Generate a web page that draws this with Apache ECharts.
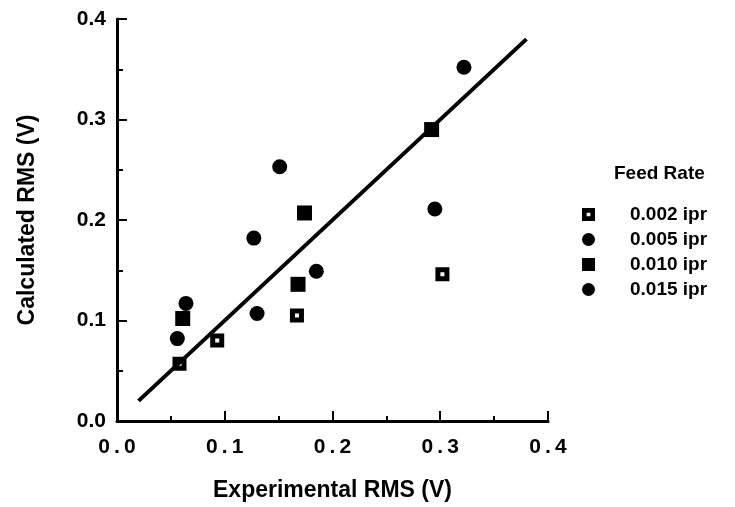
<!DOCTYPE html>
<html>
<head>
<meta charset="utf-8">
<script src="https://cdn.jsdelivr.net/npm/echarts@6/dist/echarts.min.js"></script>
<style>
  html, body, #main { width: 735px; height: 507px; margin: 0; background: #fff; }
</style>
</head>
<body>
<div id="main"></div>
<script>
// values
const rate002 = [[0.058, 0.057], [0.093, 0.080], [0.167, 0.105], [0.302, 0.146]]
const rate005 = [[0.056, 0.082], [0.064, 0.117], [0.130, 0.107], [0.185, 0.149]]
const rate010 = [[0.061, 0.102], [0.168, 0.136], [0.174, 0.207], [0.292, 0.290]]
const rate015 = [[0.127, 0.182], [0.151, 0.253], [0.295, 0.211], [0.322, 0.352]]
const fitLine = [[0.02, 0.02], [0.38, 0.38]]
const legendNames = ['0.002 ipr', '0.005 ipr', '0.010 ipr', '0.015 ipr']

const font = '"Liberation Sans", Arial, sans-serif'
const chart = echarts.init(document.getElementById('main'))

const spaced = v => v.toFixed(1).split('').join('\u2009')
// black square with a small white hole, like the printed marker
const holeSquare = 'path://M0 0H14V14H0Z M5 5V9H9V5Z'

chart.setOption({
  animation: false,
  backgroundColor: '#fff',
  grid: { left: 117, right: 187, top: 19, bottom: 85 },
  title: {
    text: 'Feed Rate',
    left: 609, top: 159,
    textStyle: { fontFamily: font, fontSize: 19, fontWeight: 'bold', color: '#000' }
  },
  legend: {
    data: legendNames.map((n, i) => i === 0
      ? { name: n, icon: holeSquare, itemStyle: { color: '#000', borderWidth: 0 } }
      : { name: n }),
    orient: 'vertical',
    left: 577, top: 200,
    itemWidth: 13, itemHeight: 13,
    itemGap: 6,
    textStyle: { fontFamily: font, fontSize: 19, fontWeight: 'bold', color: '#000', padding: [0, 0, 0, 30] }
  },
  xAxis: {
    type: 'value', min: 0, max: 0.4, interval: 0.1,
    name: 'Experimental RMS (V)', nameLocation: 'middle', nameGap: 58,
    nameTextStyle: { fontFamily: font, fontSize: 23, fontWeight: 'bold', color: '#000' },
    axisLine: { lineStyle: { color: '#000', width: 3 } },
    axisTick: { inside: true, length: 10, lineStyle: { color: '#000', width: 2 } },
    minorTick: { show: true, splitNumber: 2, length: 5, lineStyle: { color: '#000', width: 2 } },
    axisLabel: { fontFamily: font, fontSize: 21, fontWeight: 'bold', color: '#000', margin: 16, formatter: spaced },
    splitLine: { show: false }
  },
  yAxis: {
    type: 'value', min: 0, max: 0.4, interval: 0.1,
    name: 'Calculated RMS (V)', nameLocation: 'middle', nameGap: 78, nameRotate: 90,
    nameTextStyle: { fontFamily: font, fontSize: 23, fontWeight: 'bold', color: '#000' },
    axisLine: { show: true, lineStyle: { color: '#000', width: 3 } },
    axisTick: { show: true, inside: true, length: 10, lineStyle: { color: '#000', width: 2 } },
    minorTick: { show: true, splitNumber: 2, length: 6, lineStyle: { color: '#000', width: 2 } },
    axisLabel: { fontFamily: font, fontSize: 21, fontWeight: 'bold', color: '#000', margin: 11, formatter: v => v.toFixed(1) },
    splitLine: { show: false }
  },
  series: [
    {
      name: '0.002 ipr', type: 'scatter', data: rate002,
      symbol: 'rect', symbolSize: 9,
      itemStyle: { color: '#fff', borderColor: '#000', borderWidth: 5, opacity: 1 }
    },
    {
      name: '0.005 ipr', type: 'scatter', data: rate005,
      symbol: 'circle', symbolSize: 15,
      itemStyle: { color: '#000', opacity: 1 }
    },
    {
      name: '0.010 ipr', type: 'scatter', data: rate010,
      symbol: 'rect', symbolSize: 15,
      itemStyle: { color: '#000', opacity: 1 }
    },
    {
      name: '0.015 ipr', type: 'scatter', data: rate015,
      symbol: 'circle', symbolSize: 15,
      itemStyle: { color: '#000', opacity: 1 }
    },
    {
      name: 'fit', type: 'line', data: fitLine,
      symbol: 'none', silent: true,
      lineStyle: { color: '#000', width: 4 }
    }
  ]
})
</script>
</body>
</html>
